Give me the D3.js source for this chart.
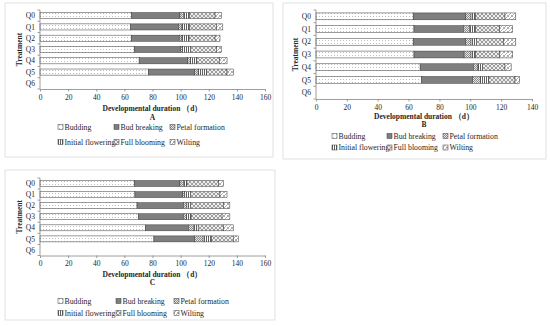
<!doctype html>
<meta charset="utf-8">
<title>Developmental duration</title>
<script src="https://cdn.jsdelivr.net/npm/d3@7"></script>
<style>
    body { margin: 0; background: #fff; }
    svg text { font-family: "Liberation Serif", "Times New Roman", serif; fill: #262626; }
</style>
<body>
<svg id="chart" width="550" height="326"></svg>

<script>

    var treatments = ["Q0", "Q1", "Q2", "Q3", "Q4", "Q5", "Q6"];
    var stages = ["Budding", "Bud breaking", "Petal formation", "Initial flowering", "Full blooming", "Wilting"];

    // days spent in each stage, one row per treatment (Q6 has no bars)
    var durationsA = [
        [65, 34.5, 2.5, 4.5, 18, 4.5],
        [64.5, 34, 2.5, 5.5, 19, 4.5],
        [65, 34, 2, 5, 18.5, 3.5],
        [67, 33, 1.5, 5.5, 18.5, 3.5],
        [70.5, 34.5, 2, 4.5, 16, 5.5],
        [77, 33, 2.5, 6, 14.5, 4.5],
        [0, 0, 0, 0, 0, 0]
    ];
    var durationsB = [
        [63, 34, 3.5, 3, 19, 7],
        [63.5, 32, 4, 4, 15.5, 8.5],
        [63, 34, 3.5, 3.5, 17.5, 8],
        [63.5, 32.5, 4.5, 3, 15.5, 8.5],
        [67.5, 34.5, 3, 3, 14.5, 4],
        [68.5, 33, 5, 5.5, 17, 3],
        [0, 0, 0, 0, 0, 0]
    ];
    var durationsC = [
        [67, 32.5, 2.5, 2.5, 22.5, 3.5],
        [67.5, 34, 1.5, 4, 21, 5],
        [69, 33, 2.5, 2.5, 23.5, 4.5],
        [70, 32, 2, 3.5, 22, 5.5],
        [75, 30.5, 3.5, 3.5, 18, 7],
        [81, 29, 6, 6, 15.5, 3.5],
        [0, 0, 0, 0, 0, 0]
    ];
    var xMaxA = 160, xMaxB = 140, xMaxC = 160;
    var panelLetters = ["A", "B", "C"];
    var axisTitle = "Developmental duration （d）";

    var svg = d3.select("#chart");
    var defs = svg.append("defs");

    // fill patterns, one per stage
    function addPattern(id, w, h, draw) {
        var p = defs.append("pattern")
                .attr("id", id)
                .attr("patternUnits", "userSpaceOnUse")
                .attr("width", w).attr("height", h);
        draw(p);
    }

    addPattern("p0", 3, 3, function (p) {
        p.append("rect").attr("width", 3).attr("height", 3).attr("fill", "#fff");
        p.append("rect").attr("x", 1).attr("y", 1).attr("width", 0.8).attr("height", 0.8).attr("fill", "#9a9a9a");
    });
    addPattern("p1", 4, 4, function (p) {
        p.append("rect").attr("width", 4).attr("height", 4).attr("fill", "#7f7f7f");
    });
    addPattern("p2", 2, 2, function (p) {
        p.append("rect").attr("width", 2).attr("height", 2).attr("fill", "#e6e6e6");
        p.append("rect").attr("width", 1).attr("height", 1).attr("fill", "#8c8c8c");
        p.append("rect").attr("x", 1).attr("y", 1).attr("width", 1).attr("height", 1).attr("fill", "#8c8c8c");
    });
    addPattern("p3", 2, 2, function (p) {
        p.append("rect").attr("width", 2).attr("height", 2).attr("fill", "#fff");
        p.append("rect").attr("width", 0.9).attr("height", 2).attr("fill", "#4d4d4d");
    });
    addPattern("p4", 4, 4, function (p) {
        p.append("rect").attr("width", 4).attr("height", 4).attr("fill", "#eeeeee");
        p.append("path").attr("d", "M0,0L2,2L4,0M0,4L2,2L4,4")
                .attr("stroke", "#7a7a7a").attr("stroke-width", 0.7).attr("fill", "none");
    });
    addPattern("p5", 4, 4, function (p) {
        p.append("rect").attr("width", 4).attr("height", 4).attr("fill", "#fff");
        p.append("path").attr("d", "M0,4L4,0M0,1L1,0M3,4L4,3")
                .attr("stroke", "#8a8a8a").attr("stroke-width", 0.7).attr("fill", "none");
    });

    function toRows(durations) {
        return durations.map(function (row, i) {
            var o = { treatment: treatments[i] };
            stages.forEach(function (s, j) { o[s] = row[j]; });
            return o;
        });
    }

    function drawPanel(cfg, durations, xMax, letter) {
        var g = svg.append("g");

        g.append("rect")
                .attr("x", cfg.frame[0]).attr("y", cfg.frame[1])
                .attr("width", cfg.frame[2]).attr("height", cfg.frame[3])
                .attr("fill", "none").attr("stroke", "#d9d9d9").attr("stroke-width", 0.8);

        var x = d3.scaleLinear().domain([0, xMax]).range([cfg.x0, cfg.x1]);
        var y = d3.scaleBand().domain(treatments).range([cfg.yTop, cfg.yBottom])
                .paddingInner(0.46).paddingOuter(0.23);

        var series = d3.stack().keys(stages)(toRows(durations));

        g.selectAll("g.series")
                .data(series)
                .enter().append("g")
                .attr("class", "series")
                .attr("fill", function (d, i) { return "url(#p" + i + ")"; })
                .selectAll("rect")
                .data(function (d) { return d.filter(function (v) { return v[1] > v[0]; }); })
                .enter().append("rect")
                .attr("x", function (d) { return x(d[0]); })
                .attr("width", function (d) { return x(d[1]) - x(d[0]); })
                .attr("y", function (d) { return y(d.data.treatment); })
                .attr("height", y.bandwidth())
                .attr("stroke", "#3a3a3a")
                .attr("stroke-width", 0.5);

        // x axis
        var xAxis = g.append("g")
                .attr("transform", "translate(0," + cfg.yBottom + ")")
                .call(d3.axisBottom(x).tickValues(d3.range(0, xMax + 1, 20)).tickSize(2.5).tickSizeOuter(0).tickPadding(3));
        xAxis.select(".domain").attr("stroke", "#868686").attr("stroke-width", 0.8);
        xAxis.selectAll(".tick line").attr("stroke", "#868686").attr("stroke-width", 0.8);
        xAxis.selectAll(".tick text").attr("font-size", "7.5px").attr("fill", "#262626");

        // y axis with ticks between categories
        var yAxis = g.append("g");
        yAxis.append("line")
                .attr("x1", cfg.x0).attr("x2", cfg.x0)
                .attr("y1", cfg.yTop).attr("y2", cfg.yBottom)
                .attr("stroke", "#868686").attr("stroke-width", 0.8);
        var bounds = treatments.map(function (t) { return y(t) - y.step() * y.paddingInner() / 2; });
        bounds.push(cfg.yBottom);
        yAxis.selectAll("line.tk")
                .data(bounds)
                .enter().append("line")
                .attr("class", "tk")
                .attr("x1", cfg.x0 - 2.5).attr("x2", cfg.x0)
                .attr("y1", function (d) { return d; }).attr("y2", function (d) { return d; })
                .attr("stroke", "#868686").attr("stroke-width", 0.8);
        yAxis.selectAll("text")
                .data(treatments)
                .enter().append("text")
                .attr("x", cfg.x0 - 5)
                .attr("y", function (d) { return y(d) + y.bandwidth() / 2; })
                .attr("dy", "0.35em")
                .attr("text-anchor", "end")
                .attr("font-size", "7.5px")
                .text(function (d) { return d; });

        g.append("text")
                .attr("transform", "translate(" + cfg.treatX + "," + (cfg.yTop + cfg.yBottom) / 2 + ") rotate(-90)")
                .attr("dy", "0.35em")
                .attr("text-anchor", "middle")
                .attr("font-size", "7.5px")
                .attr("font-weight", "bold")
                .text("Treatment");

        var cx = (cfg.x0 + cfg.x1) / 2;
        g.append("text")
                .attr("x", cx).attr("y", cfg.titleY).attr("dy", "0.35em")
                .attr("text-anchor", "middle")
                .attr("font-size", "7.5px").attr("font-weight", "bold")
                .text(axisTitle);
        g.append("text")
                .attr("x", cx).attr("y", cfg.letterY).attr("dy", "0.35em")
                .attr("text-anchor", "middle")
                .attr("font-size", "7.5px").attr("font-weight", "bold")
                .text(letter);

        // legend, 3 columns x 2 rows
        var items = g.selectAll("g.legend")
                .data(stages)
                .enter().append("g")
                .attr("class", "legend")
                .attr("transform", function (d, i) {
                    return "translate(" + cfg.legendX[i % 3] + "," + cfg.legendY[Math.floor(i / 3)] + ")";
                });
        items.append("rect")
                .attr("x", 0).attr("y", -2.5)
                .attr("width", 5).attr("height", 5)
                .attr("fill", function (d, i) { return "url(#p" + i + ")"; })
                .attr("stroke", "#3a3a3a").attr("stroke-width", 0.5);
        items.append("text")
                .attr("x", 6.5).attr("dy", "0.35em")
                .attr("font-size", "7.8px")
                .text(function (d) { return d; });
    }

    drawPanel({
        x0: 40, x1: 265, yTop: 10, yBottom: 89, treatX: 19,
        titleY: 108, letterY: 117, legendY: [127, 142], legendX: [58, 114, 170],
        frame: [5, 3, 268, 154]
    }, durationsA, xMaxA, panelLetters[0]);

    drawPanel({
        x0: 316, x1: 532, yTop: 10, yBottom: 99, treatX: 295,
        titleY: 116.5, letterY: 124, legendY: [136, 147.5], legendX: [332, 387, 443],
        frame: [283, 3, 263, 156]
    }, durationsB, xMaxB, panelLetters[1]);

    drawPanel({
        x0: 40, x1: 265, yTop: 178, yBottom: 255.5, treatX: 19,
        titleY: 274, letterY: 282, legendY: [301, 313], legendX: [58, 116, 174],
        frame: [5, 170, 270, 150]
    }, durationsC, xMaxC, panelLetters[2]);

</script>
</body>
